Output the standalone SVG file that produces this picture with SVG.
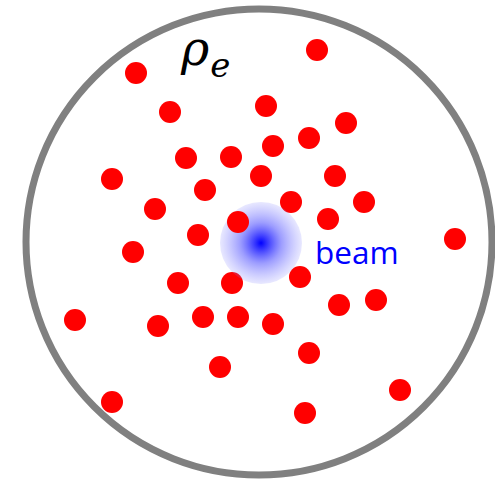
<svg xmlns="http://www.w3.org/2000/svg" width="495" height="480" viewBox="0 0 495 480">
<defs>
<radialGradient id="beamGrad" cx="0.5" cy="0.5" r="0.5">
<stop offset="0" stop-color="#0000ff" stop-opacity="1"/>
<stop offset="0.5" stop-color="#4d4dff" stop-opacity="0.55"/>
<stop offset="1" stop-color="#8080ff" stop-opacity="0.18"/>
</radialGradient>
</defs>
<style>
.dot{fill:#ff0000}
.lbl{font-family:"Open Sans","Liberation Sans",sans-serif;fill:#0000ff}
.math{font-family:"DejaVu Serif","Liberation Serif",serif;font-style:italic;fill:#000}
</style>
<rect width="495" height="480" fill="#fff"/>
<g id="boundary">
<circle cx="259" cy="242" r="233" fill="none" stroke="#808080" stroke-width="7"/>
</g>
<g id="label-rho">
<text class="math" x="181" y="65" font-size="48">ρ<tspan font-size="34" dx="1" dy="12">e</tspan></text>
</g>
<g id="electrons">
<circle class="dot" cx="136" cy="73" r="11"/>
<circle class="dot" cx="317" cy="50" r="11"/>
<circle class="dot" cx="170" cy="112" r="11"/>
<circle class="dot" cx="266" cy="106" r="11"/>
<circle class="dot" cx="346" cy="123" r="11"/>
<circle class="dot" cx="309" cy="138" r="11"/>
<circle class="dot" cx="273" cy="146" r="11"/>
<circle class="dot" cx="186" cy="158" r="11"/>
<circle class="dot" cx="231" cy="157" r="11"/>
<circle class="dot" cx="112" cy="179" r="11"/>
<circle class="dot" cx="261" cy="176" r="11"/>
<circle class="dot" cx="335" cy="176" r="11"/>
<circle class="dot" cx="205" cy="190" r="11"/>
<circle class="dot" cx="291" cy="202" r="11"/>
<circle class="dot" cx="364" cy="202" r="11"/>
<circle class="dot" cx="155" cy="209" r="11"/>
<circle class="dot" cx="328" cy="219" r="11"/>
<circle class="dot" cx="198" cy="235" r="11"/>
<circle class="dot" cx="455" cy="239" r="11"/>
<circle class="dot" cx="133" cy="252" r="11"/>
<circle class="dot" cx="178" cy="283" r="11"/>
<circle class="dot" cx="232" cy="283" r="11"/>
<circle class="dot" cx="300" cy="277" r="11"/>
<circle class="dot" cx="339" cy="305" r="11"/>
<circle class="dot" cx="376" cy="300" r="11"/>
<circle class="dot" cx="75" cy="320" r="11"/>
<circle class="dot" cx="158" cy="326" r="11"/>
<circle class="dot" cx="203" cy="317" r="11"/>
<circle class="dot" cx="238" cy="317" r="11"/>
<circle class="dot" cx="273" cy="324" r="11"/>
<circle class="dot" cx="309" cy="353" r="11"/>
<circle class="dot" cx="220" cy="367" r="11"/>
<circle class="dot" cx="112" cy="402" r="11"/>
<circle class="dot" cx="400" cy="390" r="11"/>
<circle class="dot" cx="305" cy="413" r="11"/>
</g>
<g id="beam">
<circle cx="261" cy="243" r="41" fill="url(#beamGrad)"/>
</g>
<g id="electron-over-beam">
<circle class="dot" cx="238" cy="222" r="11"/>
</g>
<g id="label-beam">
<text class="lbl" x="315" y="264" font-size="31.5">beam</text>
</g>
</svg>
